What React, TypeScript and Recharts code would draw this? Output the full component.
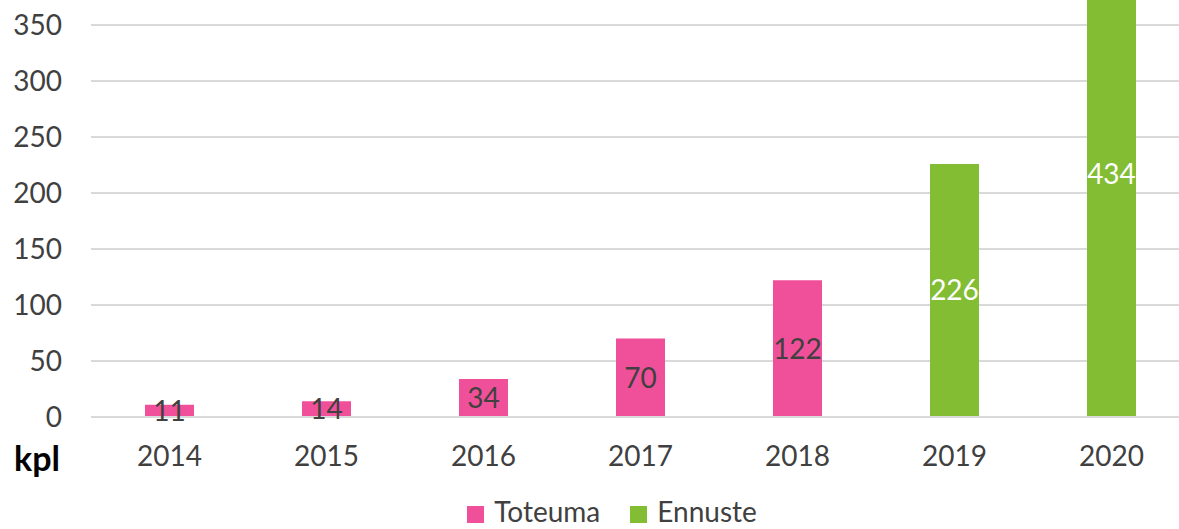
import { BarChart, Bar, XAxis, YAxis, CartesianGrid, Legend, LabelList } from "recharts";

const YEARS = ["2014", "2015", "2016", "2017", "2018", "2019", "2020"];
const TOTEUMA = [11, 14, 34, 70, 122, null, null];
const ENNUSTE = [null, null, null, null, null, 226, 434];
const Y_TICKS = [0, 50, 100, 150, 200, 250, 300, 350];

const PINK = "#F0509A";
const GREEN = "#82BD33";
const TEXT = "#404040";
const FONT = "Lato, 'Noto Sans', sans-serif";

const data = YEARS.map((year, i) => ({ year, toteuma: TOTEUMA[i], ennuste: ENNUSTE[i] }));

const LEGEND_ITEMS = [
  { name: "Toteuma", color: PINK },
  { name: "Ennuste", color: GREEN },
];

function ChartLegend() {
  return (
    <div style={{ display: "flex", justifyContent: "center", gap: 30, paddingTop: 19, height: 30, fontFamily: FONT, fontSize: 28, lineHeight: "30px", color: TEXT }}>
      {LEGEND_ITEMS.map((item) => (
        <div key={item.name} style={{ display: "flex", alignItems: "center", gap: 10 }}>
          <span style={{ width: 17, height: 17, background: item.color, display: "inline-block", marginTop: 6 }} />
          <span>{item.name}</span>
        </div>
      ))}
    </div>
  );
}

export default function App() {
  return (
    <div style={{ position: "relative", width: 1179, height: 529, overflow: "hidden", background: "#fff" }}>
      <style>{"body{margin:0}"}</style>
      {/* chart is taller/wider than the frame; the top of the 2020 bar is cropped like in the original */}
      <div style={{ position: "absolute", left: 0, top: -97 }}>
        <BarChart width={1200} height={626} data={data} margin={{ top: 10, right: 10, left: 10, bottom: 0 }}>
          <CartesianGrid vertical={false} stroke="#D9D9D9" strokeWidth={2} />
          <XAxis
            dataKey="year"
            axisLine={{ stroke: "#D9D9D9", strokeWidth: 2 }}
            tickLine={false}
            tickSize={0}
            tickMargin={29}
            height={60}
            tick={{ fill: TEXT, fontSize: 28, fontFamily: FONT }}
          />
          <YAxis
            domain={[0, 450]}
            ticks={Y_TICKS}
            axisLine={false}
            tickLine={false}
            tickSize={0}
            tickMargin={29}
            width={81}
            tick={{ fill: TEXT, fontSize: 28, fontFamily: FONT }}
          />
          <Legend verticalAlign="bottom" height={52} content={<ChartLegend />} wrapperStyle={{ left: 0, width: 1224 }} />
          <Bar dataKey="toteuma" name="Toteuma" stackId="a" fill={PINK} barSize={49} isAnimationActive={false}>
            <LabelList dataKey="toteuma" position="center" fill={TEXT} fontSize={28} fontFamily={FONT} />
          </Bar>
          <Bar dataKey="ennuste" name="Ennuste" stackId="a" fill={GREEN} barSize={49} isAnimationActive={false}>
            <LabelList dataKey="ennuste" position="center" fill="#FFFFFF" fontSize={28} fontFamily={FONT} />
          </Bar>
        </BarChart>
      </div>
      <div style={{ position: "absolute", left: 14, top: 437, fontFamily: FONT, fontWeight: 700, fontSize: 34, color: "#000" }}>kpl</div>
    </div>
  );
}
